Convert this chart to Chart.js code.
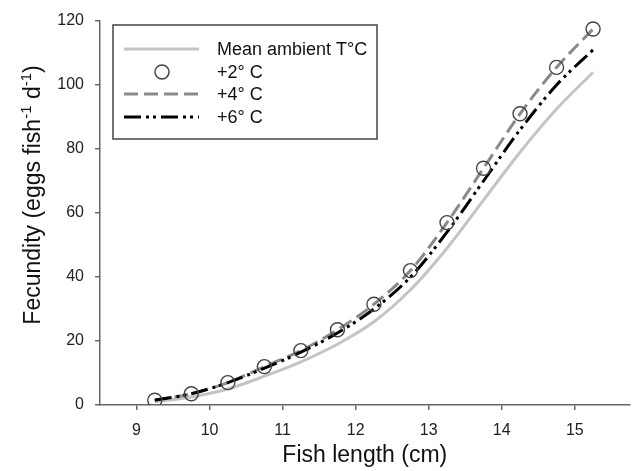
<!DOCTYPE html>
<html>
<head>
<meta charset="utf-8">
<script src="https://cdn.jsdelivr.net/npm/chart.js@4/dist/chart.umd.min.js"></script>
<style>
html,body{margin:0;padding:0;background:#fff;}
#wrap{width:638px;height:471px;position:relative;}
</style>
</head>
<body>
<div id="wrap"><canvas id="c"></canvas></div>
<script>
const lengths = [9.25, 9.75, 10.25, 10.75, 11.25, 11.75, 12.25, 12.75, 13.25, 13.75, 14.25, 14.75, 15.25];
const meanAmbient = [1, 2.5, 5, 9, 13.5, 19, 26, 36, 49, 64, 79, 92.5, 104];
const plus2 = [1.5, 3.5, 7, 12, 17, 23.5, 31.5, 42, 57, 74, 91, 105.5, 117.5];
const plus4 = [1.5, 3.5, 7, 12, 17, 23.5, 31.5, 42, 57, 74, 91, 105.5, 117.5];
const plus6 = [1.5, 3.5, 7, 11.5, 16.5, 22.5, 30, 40, 54, 70, 86, 100, 111];
const xTicks = [9, 10, 11, 12, 13, 14, 15];
const yTicks = [0, 20, 40, 60, 80, 100, 120];
const seriesNames = ['Mean ambient T°C', '+2° C', '+4° C', '+6° C'];
const yTitleParts = [['Fecundity (eggs fish', false], ['-1', true], [' d', false], ['-1', true], [')', false]];
const xTitle = 'Fish length (cm)';

const pts = arr => lengths.map((x, i) => ({x: x, y: arr[i]}));

const FONT = "'Liberation Sans', Arial, sans-serif";

const legendPlugin = {
  id: 'boxLegend',
  afterDraw(chart) {
    const ctx = chart.ctx;
    ctx.save();
    const bx = 113, by = 25, bw = 264, bh = 114;
    ctx.strokeStyle = '#444';
    ctx.lineWidth = 1.5;
    ctx.strokeRect(bx, by, bw, bh);
    const rows = [49, 72, 94, 117];
    const ds = chart.data.datasets;
    ctx.font = '18px ' + FONT;
    ctx.textBaseline = 'middle';
    ctx.textAlign = 'left';
    rows.forEach((ry, i) => {
      const d = ds[i];
      if (i === 1) {
        ctx.beginPath();
        ctx.arc(162, ry, 7, 0, Math.PI * 2);
        ctx.fillStyle = '#fff';
        ctx.fill();
        ctx.lineWidth = 1.5;
        ctx.strokeStyle = '#444';
        ctx.stroke();
      } else {
        ctx.beginPath();
        ctx.setLineDash(d.borderDash || []);
        ctx.lineWidth = d.borderWidth;
        ctx.strokeStyle = d.borderColor;
        ctx.moveTo(124, ry);
        ctx.lineTo(199, ry);
        ctx.stroke();
        ctx.setLineDash([]);
      }
      ctx.fillStyle = '#111';
      ctx.fillText(seriesNames[i], 217, ry + 1);
    });

    // Y axis title with real superscripts
    const big = '23px ' + FONT, small = '15px ' + FONT;
    let total = 0;
    yTitleParts.forEach(([t, sup]) => { ctx.font = sup ? small : big; total += ctx.measureText(t).width; });
    ctx.translate(40, 195);
    ctx.rotate(-Math.PI / 2);
    ctx.textBaseline = 'alphabetic';
    ctx.fillStyle = '#111';
    let lx = -total / 2;
    yTitleParts.forEach(([t, sup]) => {
      ctx.font = sup ? small : big;
      ctx.fillText(t, lx, sup ? -9 : 0);
      lx += ctx.measureText(t).width;
    });
    ctx.restore();
  }
};

new Chart(document.getElementById('c'), {
  type: 'scatter',
  data: {
    datasets: [
      {label: seriesNames[0], data: pts(meanAmbient), showLine: true, borderColor: '#c4c4c4', borderWidth: 3, pointRadius: 0, cubicInterpolationMode: 'monotone', order: 4},
      {label: seriesNames[1], data: pts(plus2), showLine: false, pointRadius: 7, pointBorderColor: '#444', pointBackgroundColor: 'rgba(255,255,255,0)', pointBorderWidth: 1.4, order: 1},
      {label: seriesNames[2], data: pts(plus4), showLine: true, borderColor: '#8a8a8a', borderWidth: 3, borderDash: [14, 6], pointRadius: 0, cubicInterpolationMode: 'monotone', order: 3},
      {label: seriesNames[3], data: pts(plus6), showLine: true, borderColor: '#000', borderWidth: 3, borderDash: [17, 5, 3, 4, 3, 5], pointRadius: 0, cubicInterpolationMode: 'monotone', order: 2}
    ]
  },
  options: {
    responsive: true,
    maintainAspectRatio: false,
    animation: false,
    layout: {padding: {top: 21, right: 2, left: 0, bottom: 0}},
    plugins: {legend: {display: false}, tooltip: {enabled: false}},
    scales: {
      x: {
        type: 'linear', min: 8.5, max: 15.75,
        afterBuildTicks: s => { s.ticks = xTicks.map(v => ({value: v})); },
        afterFit: s => { s.height = 66; },
        grid: {display: true, drawOnChartArea: false, drawTicks: true, tickLength: 5, color: '#666', lineWidth: 1.5},
        border: {display: true, color: '#666', width: 1.5},
        ticks: {color: '#222', font: {family: FONT, size: 16}, padding: 11},
        title: {display: true, text: xTitle, color: '#111', font: {family: FONT, size: 23}, padding: {top: 0, bottom: 2}}
      },
      y: {
        type: 'linear', min: 0, max: 120,
        afterBuildTicks: s => { s.ticks = yTicks.map(v => ({value: v})); },
        afterFit: s => { s.width = 100; },
        grid: {display: true, drawOnChartArea: false, drawTicks: true, tickLength: 5, color: '#666', lineWidth: 1.5},
        border: {display: true, color: '#666', width: 1.5},
        ticks: {color: '#222', font: {family: FONT, size: 16}, padding: 11},
        title: {display: false}
      }
    }
  },
  plugins: [legendPlugin]
});
</script>
</body>
</html>
